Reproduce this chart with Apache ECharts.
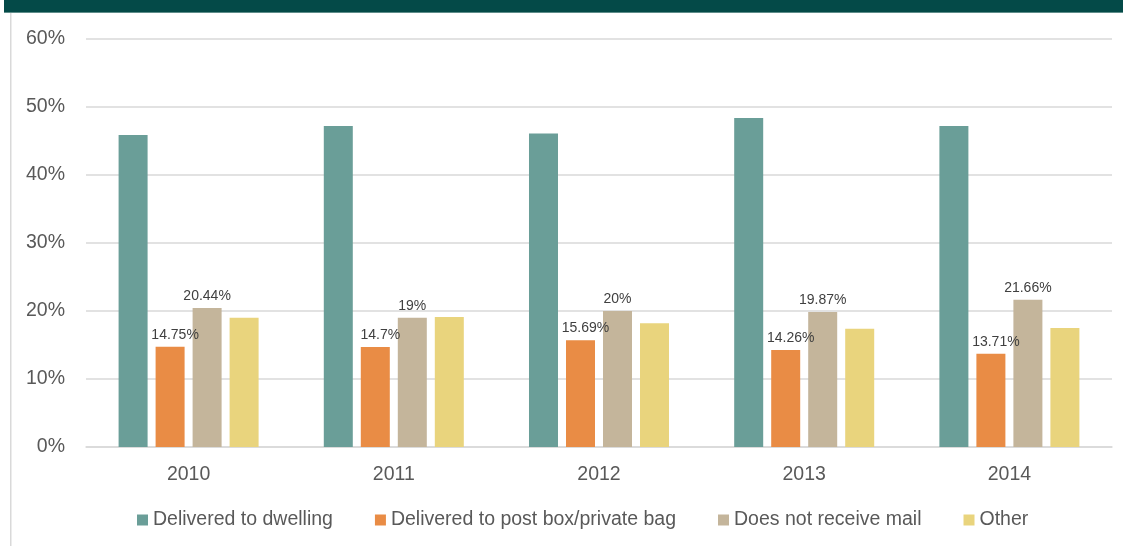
<!DOCTYPE html>
<html>
<head>
<meta charset="utf-8">
<script src="https://cdn.jsdelivr.net/npm/echarts@6/dist/echarts.min.js"></script>
<style>
  html, body { margin: 0; padding: 0; background: #ffffff; }
  #chart { width: 1123px; height: 546px; }
</style>
</head>
<body>
<div id="chart"></div>
<script>
// Years shown on the category axis
const years = ['2010', '2011', '2012', '2013', '2014'];

// Share of households by mail delivery method (%)
const deliveredToDwelling = [45.9, 47.2, 46.1, 48.4, 47.2];
const deliveredToPostBox = [14.75, 14.7, 15.69, 14.26, 13.71];
const doesNotReceiveMail = [20.44, 19, 20, 19.87, 21.66];
const otherDelivery = [19.0, 19.1, 18.2, 17.4, 17.5];

// Value axis ticks
const yMin = 0;
const yMax = 60;
const yStep = 10;

const FONT = '"Liberation Sans", Arial, sans-serif';
const chart = echarts.init(document.getElementById('chart'), null, { renderer: 'canvas' });

const labelStyle = {
  show: true,
  position: 'top',
  distance: 5,
  formatter: '{c}%',
  color: '#404040',
  fontSize: 14,
  fontFamily: FONT
};

function barSeries(name, data, color, label) {
  return {
    name: name,
    type: 'bar',
    data: data,
    barWidth: 29,
    barGap: '27.6%',
    itemStyle: { color: color },
    label: label || { show: false },
    emphasis: { disabled: true }
  };
}

chart.setOption({
  animation: false,
  backgroundColor: '#ffffff',
  textStyle: { fontFamily: FONT },
  graphic: [
    // header band
    { type: 'rect', left: 4, top: 0, shape: { width: 1119, height: 12 }, style: { fill: '#044a48' }, z: 10 },
    { type: 'rect', left: 4, top: 12, shape: { width: 1119, height: 1 }, style: { fill: '#5f8d8a' }, z: 10 },
    // frame edge on the left
    { type: 'rect', left: 10, top: 13, shape: { width: 1.5, height: 533 }, style: { fill: '#d9d9d9' }, z: 10 }
  ],
  grid: { left: 86, right: 11, top: 39, bottom: 99, containLabel: false },
  legend: {
    data: ['Delivered to dwelling', 'Delivered to post box/private bag', 'Does not receive mail', 'Other'],
    left: 137,
    top: 510,
    padding: 0,
    itemWidth: 11,
    itemHeight: 11,
    itemGap: 42,
    icon: 'rect',
    selectedMode: false,
    textStyle: { fontSize: 19.5, color: '#595959', fontFamily: FONT, padding: [0, 0, 0, 0] }
  },
  xAxis: {
    type: 'category',
    data: years,
    axisLine: { lineStyle: { color: '#d9d9d9', width: 1.5 } },
    axisTick: { show: false },
    axisLabel: { color: '#595959', fontSize: 19.5, margin: 18, fontFamily: FONT }
  },
  yAxis: {
    type: 'value',
    min: yMin,
    max: yMax,
    interval: yStep,
    axisLine: { show: false },
    axisTick: { show: false },
    axisLabel: { formatter: '{value}%', color: '#595959', fontSize: 19.5, margin: 21, fontFamily: FONT },
    splitLine: { lineStyle: { color: '#d9d9d9', width: 1.5 } }
  },
  series: [
    barSeries('Delivered to dwelling', deliveredToDwelling, '#6a9e98'),
    barSeries('Delivered to post box/private bag', deliveredToPostBox, '#e98c45', Object.assign({}, labelStyle, { offset: [5, 0] })),
    barSeries('Does not receive mail', doesNotReceiveMail, '#c4b59b', labelStyle),
    barSeries('Other', otherDelivery, '#e9d47d')
  ]
});
</script>
</body>
</html>
